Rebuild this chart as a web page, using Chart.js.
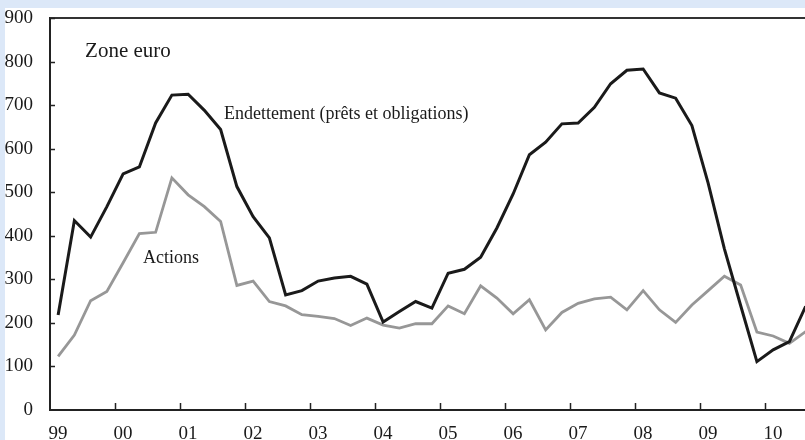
<!DOCTYPE html>
<html>
<head>
<meta charset="utf-8">
<script src="https://cdn.jsdelivr.net/npm/chart.js@4"></script>
<style>
    html, body { margin: 0; padding: 0; background: #dce8f8; }
    #wrap { width: 805px; height: 440px; }
</style>
</head>
<body>
<div id="wrap"><canvas id="chart" width="805" height="440"></canvas></div>
<script>
// Quarterly data, 1999 T1 .. 2010 T3
const startYear = 1999;
const tickYears = [1999, 2000, 2001, 2002, 2003, 2004, 2005, 2006, 2007, 2008, 2009, 2010];
const endettement = [218, 435, 397, 467, 542, 558, 659, 723, 725, 688,
    644, 513, 444, 395, 264, 274, 296, 303, 307, 289,
    202, 226, 249, 234, 314, 323, 351, 418, 496, 586,
    615, 657, 659, 695, 749, 780, 783, 728, 716, 653,
    521, 370, 240, 111, 138, 157, 238];
const actions = [123, 172, 251, 272, 338, 405, 408, 533, 494, 467,
    433, 286, 296, 249, 239, 219, 215, 210, 194, 211,
    195, 188, 198, 198, 239, 221, 285, 257, 221, 253,
    184, 224, 245, 255, 259, 230, 274, 230, 201, 241,
    274, 307, 287, 179, 170, 153, 180];

const SERIF = '"Liberation Serif", "DejaVu Serif", serif';

function toPoints(values) {
    return values.map((v, i) => ({ x: startYear + (i + 0.5) / 4, y: v }));
}

// background, frame and inward tick marks
const framePlugin = {
    id: 'frame',
    beforeDraw(chart) {
        const ctx = chart.ctx;
        ctx.save();
        ctx.fillStyle = '#dce8f8';
        ctx.fillRect(0, 0, chart.width, chart.height);
        ctx.fillStyle = '#ffffff';
        ctx.fillRect(5, 8, chart.width - 5, chart.height - 8);
        ctx.restore();
    },
    afterDraw(chart) {
        const ctx = chart.ctx;
        const area = chart.chartArea;
        const xs = chart.scales.x;
        const ys = chart.scales.y;
        ctx.save();
        ctx.strokeStyle = '#333333';
        ctx.lineWidth = 2;
        ctx.beginPath();
        ctx.moveTo(area.left, area.top);
        ctx.lineTo(area.right, area.top);
        ctx.stroke();

        ctx.strokeStyle = '#222222';
        ctx.lineWidth = 1.5;
        ctx.beginPath();
        tickYears.slice(1).forEach(yr => {
            const px = Math.round(xs.getPixelForValue(yr)) + 0.5;
            ctx.moveTo(px, area.bottom);
            ctx.lineTo(px, area.bottom - 7);
        });
        ys.ticks.forEach(t => {
            if (t.value === 0) return;
            const py = Math.round(ys.getPixelForValue(t.value)) + 0.5;
            ctx.moveTo(area.left, py);
            ctx.lineTo(area.left + 5, py);
        });
        ctx.stroke();

        // text annotations, anchored in data units
        ctx.fillStyle = '#1a1a1a';
        ctx.textBaseline = 'alphabetic';
        ctx.textAlign = 'left';
        ctx.font = '21px ' + SERIF;
        ctx.fillText('Zone euro', xs.getPixelForValue(1999.54), ys.getPixelForValue(811));
        ctx.font = '18px ' + SERIF;
        ctx.fillText('Endettement (prêts et obligations)', xs.getPixelForValue(2001.677), ys.getPixelForValue(667));
        ctx.fillText('Actions', xs.getPixelForValue(2000.43), ys.getPixelForValue(337));
        ctx.restore();
    }
};

new Chart(document.getElementById('chart'), {
    type: 'line',
    data: {
        datasets: [
            {
                label: 'Endettement (prêts et obligations)',
                data: toPoints(endettement),
                borderColor: '#1a1a1a',
                borderWidth: 3,
                pointRadius: 0,
                tension: 0
            },
            {
                label: 'Actions',
                data: toPoints(actions),
                borderColor: '#979797',
                borderWidth: 2.8,
                pointRadius: 0,
                tension: 0
            }
        ]
    },
    options: {
        responsive: false,
        animation: false,
        layout: { padding: { left: 5, top: 18, right: 0, bottom: 0 } },
        plugins: {
            legend: { display: false },
            tooltip: { enabled: false }
        },
        scales: {
            x: {
                type: 'linear',
                min: 1999,
                max: 2010.615,
                afterBuildTicks(scale) {
                    scale.ticks = tickYears.map(v => ({ value: v }));
                },
                afterFit(scale) { scale.height = 30; },
                grid: { display: false, drawTicks: false },
                border: { display: true, color: '#222222', width: 2 },
                ticks: {
                    autoSkip: false,
                    maxRotation: 0,
                    padding: 13,
                    labelOffset: 8,
                    color: '#1a1a1a',
                    font: { family: SERIF, size: 19 },
                    callback: v => String(v).slice(2)
                }
            },
            y: {
                min: 0,
                max: 900,
                afterFit(scale) {
                    scale.width = 45;
                    scale.paddingTop = 10;
                    scale.paddingBottom = 10;
                },
                grid: { display: false, drawTicks: false },
                border: { display: true, color: '#222222', width: 2 },
                ticks: {
                    stepSize: 100,
                    padding: 17,
                    color: '#1a1a1a',
                    font: { family: SERIF, size: 19 }
                }
            }
        }
    },
    plugins: [framePlugin]
});
</script>
</body>
</html>
